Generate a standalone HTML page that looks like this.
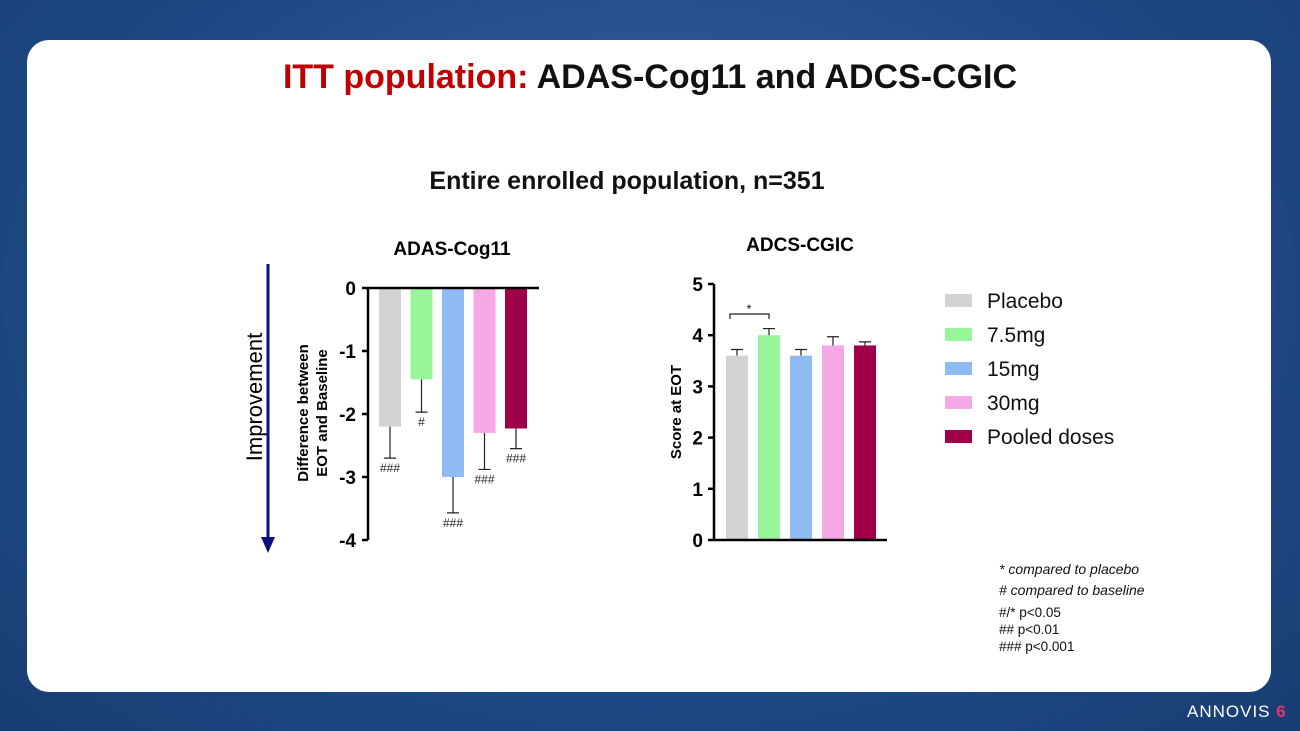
<!DOCTYPE html>
<html><head><meta charset="utf-8"><style>
body{margin:0;width:1300px;height:731px;overflow:hidden;font-family:"Liberation Sans",sans-serif;background:radial-gradient(ellipse at 50% 40%,#3b6aa8,#1f4a86 60%,#183d72);position:relative}
.card{position:absolute;left:27px;top:40px;width:1244px;height:652px;background:#fff;border-radius:22px}
.t{position:absolute;white-space:nowrap}
</style></head><body>
<div class="card"></div>
<div class="t" style="left:0;width:1300px;text-align:center;top:58px;font-size:34px;font-weight:bold;color:#111"><span style="color:#c00000">ITT population:</span> ADAS-Cog11 and ADCS-CGIC</div>
<div class="t" style="left:0;width:1254px;text-align:center;top:167px;font-size:25px;font-weight:bold;color:#111">Entire enrolled population, n=351</div>
<svg id="s" width="1300" height="731" style="position:absolute;left:0;top:0"></svg>
<div class="t" style="left:999px;top:559px;font-size:14px;color:#111;line-height:21px"><i>* compared to placebo</i><br><i># compared to baseline</i><div style="line-height:17px;margin-top:3px;font-size:13.5px">#/* p&lt;0.05<br>## p&lt;0.01<br>### p&lt;0.001</div></div>
<div class="t" style="left:1187px;top:702px;font-size:17px;color:#fff;letter-spacing:1px">ANNOVIS <span style="color:#e8326e;font-weight:bold">6</span></div>
<script>
const categories=["Placebo","7.5mg","15mg","30mg","Pooled doses"];
const colors=["#d3d3d3","#98f59a","#8dbbf2","#f4a8e6","#a0004a"];
const adasValues=[-2.2,-1.45,-3.0,-2.3,-2.23];
const adasErrEnds=[-2.7,-1.97,-3.57,-2.88,-2.55];
const adasMarks=["###","#","###","###","###"];
const adasTicks=[0,-1,-2,-3,-4];
const cgicValues=[3.6,4.0,3.6,3.8,3.8];
const cgicErrEnds=[3.72,4.13,3.72,3.97,3.87];
const cgicTicks=[0,1,2,3,4,5];
const NS="http://www.w3.org/2000/svg",s=document.getElementById('s');
function el(t,a,txt){const e=document.createElementNS(NS,t);for(const k in a)e.setAttribute(k,a[k]);if(txt!=null)e.textContent=txt;s.appendChild(e);return e;}
const ay=v=>288+(-v)*63, ax=i=>390+i*31.5;
adasValues.forEach((v,i)=>{
 const r=el('rect',{x:ax(i)-11,y:ay(0),width:22,height:ay(v)-ay(0),fill:colors[i]});
 
 const l=el('path',{d:`M${ax(i)} ${ay(v)}V${ay(adasErrEnds[i])}M${ax(i)-6} ${ay(adasErrEnds[i])}H${ax(i)+6}`,stroke:'#222','stroke-width':1.2,fill:'none'});
 
 const m=el('text',{x:ax(i),y:ay(adasErrEnds[i])+14,'font-size':12,'text-anchor':'middle',fill:'#222'},adasMarks[i]);
 
});
el('path',{d:`M368 ${ay(0)}H539M368 ${ay(0)}V${ay(-4)}`,stroke:'#000','stroke-width':2.5,fill:'none'});
adasTicks.forEach(t=>{el('path',{d:`M362 ${ay(t)}H368`,stroke:'#000','stroke-width':2.5});
 const tx=el('text',{x:356,y:ay(t)+7,'font-size':19,'font-weight':'bold','text-anchor':'end'},String(t));
 });
el('text',{x:452,y:255,'font-size':19,'font-weight':'bold','text-anchor':'middle'},'ADAS-Cog11');
el('text',{transform:'translate(308,413) rotate(-90)','font-size':15,'font-weight':'bold','text-anchor':'middle'},'Difference between');
el('text',{transform:'translate(327,413) rotate(-90)','font-size':15,'font-weight':'bold','text-anchor':'middle'},'EOT and Baseline');
el('text',{transform:'translate(262,397) rotate(-90)','font-size':22,'text-anchor':'middle'},'Improvement');
el('path',{d:'M268 264V540',stroke:'#10107a','stroke-width':3});
el('path',{d:'M261 537L268 553L275 537Z',fill:'#10107a'});
const cy=v=>540-v*51.2, cx=i=>737+i*32;
cgicValues.forEach((v,i)=>{
 const r=el('rect',{x:cx(i)-11,y:cy(v),width:22,height:cy(0)-cy(v),fill:colors[i]});
 
 const l=el('path',{d:`M${cx(i)} ${cy(v)}V${cy(cgicErrEnds[i])}M${cx(i)-6} ${cy(cgicErrEnds[i])}H${cx(i)+6}`,stroke:'#222','stroke-width':1.2,fill:'none'});
 
});
el('path',{d:`M714 ${cy(0)}H887M714 ${cy(0)}V${cy(5)}`,stroke:'#000','stroke-width':2.5,fill:'none'});
cgicTicks.forEach(t=>{el('path',{d:`M708 ${cy(t)}H714`,stroke:'#000','stroke-width':2.5});
 const tx=el('text',{x:703,y:cy(t)+7,'font-size':19,'font-weight':'bold','text-anchor':'end'},String(t));
 });
el('path',{d:`M${cx(0)-7} 319V314H${cx(1)}V319`,stroke:'#222','stroke-width':1.2,fill:'none'});
el('text',{x:(cx(0)+cx(1))/2-4,y:313,'font-size':12,'text-anchor':'middle'},'*');
el('text',{x:800,y:251,'font-size':19,'font-weight':'bold','text-anchor':'middle'},'ADCS-CGIC');
el('text',{transform:'translate(681,412) rotate(-90)','font-size':15,'font-weight':'bold','text-anchor':'middle'},'Score at EOT');
categories.forEach((c,i)=>{const y=301+i*34;
 const r=el('rect',{x:945,y:y-7,width:27,height:13,fill:colors[i]});
 
 const t=el('text',{x:987,y:y+7,'font-size':21,fill:'#111'},c);
 });
</script>
</body></html>
